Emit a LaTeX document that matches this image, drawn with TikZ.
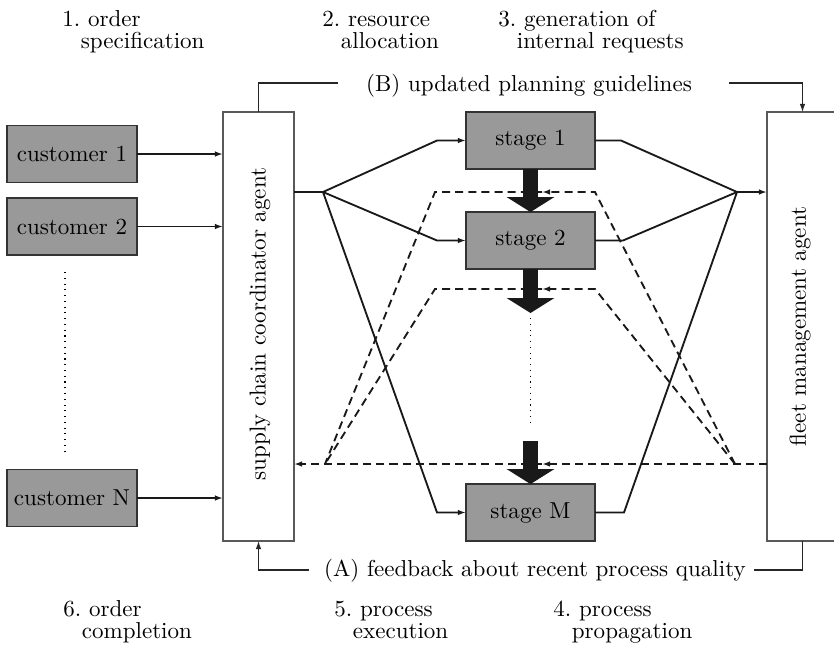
\documentclass[tikz,border=0pt]{standalone}
\usetikzlibrary{arrows.meta}
\begin{document}
\begin{tikzpicture}[x=0.434pt,y=-0.434pt,
  every node/.style={font=\fontsize{10pt}{9.4pt}\selectfont},
  custbox/.style={draw=black!80, fill=black!40, line width=0.5pt, minimum width=56.4pt, minimum height=24.7pt, inner sep=0pt, outer sep=0pt},
  stagebox/.style={custbox, minimum width=56pt},
  agentbox/.style={draw=black!65, line width=0.5pt, minimum width=30.8pt, minimum height=186.2pt, inner sep=0pt, outer sep=0pt},
  conn/.style={line width=0.8pt, black!90},
  endtip/.style={-{Latex[length=3.5pt,width=2.4pt]}},
  fb/.style={line width=0.8pt, dash pattern=on 3.5pt off 2.2pt, black!90},
  guide/.style={line width=0.45pt, black!85},
  bigarr/.style={line width=6.5pt, black!90, -{Triangle[length=6.5pt,width=20.4pt]}},
  head/.style={anchor=north west, align=left, inner sep=0pt}
]
\useasboundingbox (0,0) rectangle (834,644);
\clip (0,0) rectangle (834,644);

% headings
\node[head] (h1) at (62,10) {1.~order\\\hspace*{8pt}specification};
\node[head] (h2) at (322,10) {2.~resource\vphantom{d}\\\hspace*{8pt}allocation};
\node[head] (h3) at (498,10) {3.~generation of\\\hspace*{8pt}internal requests};
\node[head] (h6) at (63,600) {6.~order\\\hspace*{8pt}completion};
\node[head] (h5) at (334,600) {5.~process\vphantom{d}\\\hspace*{8pt}execution};
\node[head] (h4) at (553,600) {4.~process\vphantom{d}\\\hspace*{8pt}propagation};

% customers
\node[custbox] (c1) at (72,154) {customer 1};
\node[custbox] (c2) at (72,226.5) {customer 2};
\node[custbox] (cN) at (72,498) {customer N};
\coordinate (dotA) at (65,272);
\coordinate (dotB) at (65,455);
\draw[dotted, line width=0.5pt] (dotA) -- (dotB);

% agents
\node[agentbox] (sca) at (258.5,326.5) {};
\node[rotate=90] (scal) at (260,324) {supply chain coordinator agent};
\node[agentbox] (fma) at (802.5,326.5) {};
\node[rotate=90] (fmal) at (800,326.5) {fleet management agent};

% dashed feedback paths
\coordinate (dR) at (735,464);
\coordinate (dL) at (325,464);
\coordinate (a1) at (595,192);
\coordinate (m1) at (542,192);
\coordinate (b1) at (435,192);
\coordinate (a2) at (595,289);
\coordinate (m2) at (542,289);
\coordinate (b2) at (435,289);
\coordinate (m3) at (542,464);
\draw[fb,endtip] (dR) -- (a1) -- (m1);
\draw[fb] (m1) -- (b1) -- (dL);
\draw[fb,endtip] (dR) -- (a2) -- (m2);
\draw[fb] (m2) -- (b2) -- (dL);
\draw[fb,endtip] (dR -| fma.west) -- (m3);
\draw[fb,endtip] (m3) -- (dL -| sca.east);

% stages
\node[stagebox] (s1) at (530.5,140.5) {stage 1};
\node[stagebox] (s2) at (530.5,240.5) {stage 2};
\node[stagebox] (sM) at (530.5,512.5) {stage M};

% big arrows
\coordinate (t2) at (530.5,313);
\coordinate (dt1) at (530.5,318);
\coordinate (dt2) at (530.5,426);
\coordinate (t3) at (530.5,441);
\draw[bigarr] (s1.south) -- (s2.north);
\draw[bigarr] (s2.south) -- (t2);
\draw[dotted, line width=0.5pt] (dt1) -- (dt2);
\draw[bigarr] (t3) -- (sM.north);

% customer arrows
\draw[conn,endtip] (c1.east) -- (c1.east -| sca.west);
\draw[conn,endtip] (c2.east) -- (c2.east -| sca.west);
\draw[conn,endtip] (cN.east) -- (cN.east -| sca.west);

% left fork
\coordinate (fl) at (323,192);
\coordinate (k1) at (437,140.5);
\coordinate (k2) at (437,240.5);
\coordinate (kM) at (437,512.5);
\draw[conn] (fl -| sca.east) -- (fl);
\draw[conn,endtip] (fl) -- (k1) -- (s1.west);
\draw[conn,endtip] (fl) -- (k2) -- (s2.west);
\draw[conn,endtip] (fl) -- (kM) -- (sM.west);

% right fork
\coordinate (fr) at (737,192);
\coordinate (r1) at (621,140.5);
\coordinate (r2) at (623,240.5);
\coordinate (rM) at (624,512.5);
\draw[conn] (s1.east) -- (r1) -- (fr);
\draw[conn] (s2.east) -- (r2) -- (fr);
\draw[conn] (sM.east) -- (rM) -- (fr);
\draw[conn,endtip] (fr) -- (fr -| fma.west);

% guidelines (B)
\node[inner sep=0pt] (B) at (529,86) {(B) updated planning guidelines};
\coordinate (Bl) at (338,83);
\coordinate (Br) at (729,83);
\draw[guide] (Bl) -| (sca.north);
\draw[guide,endtip] (Br) -| (fma.north);

% feedback (A)
\node[inner sep=0pt] (A) at (535,571) {(A) feedback about recent process quality};
\coordinate (Al) at (309,570);
\coordinate (Ar) at (754,570);
\draw[guide,endtip] (Al) -| (sca.south);
\draw[guide] (Ar) -| (fma.south);
\end{tikzpicture}
\end{document}
